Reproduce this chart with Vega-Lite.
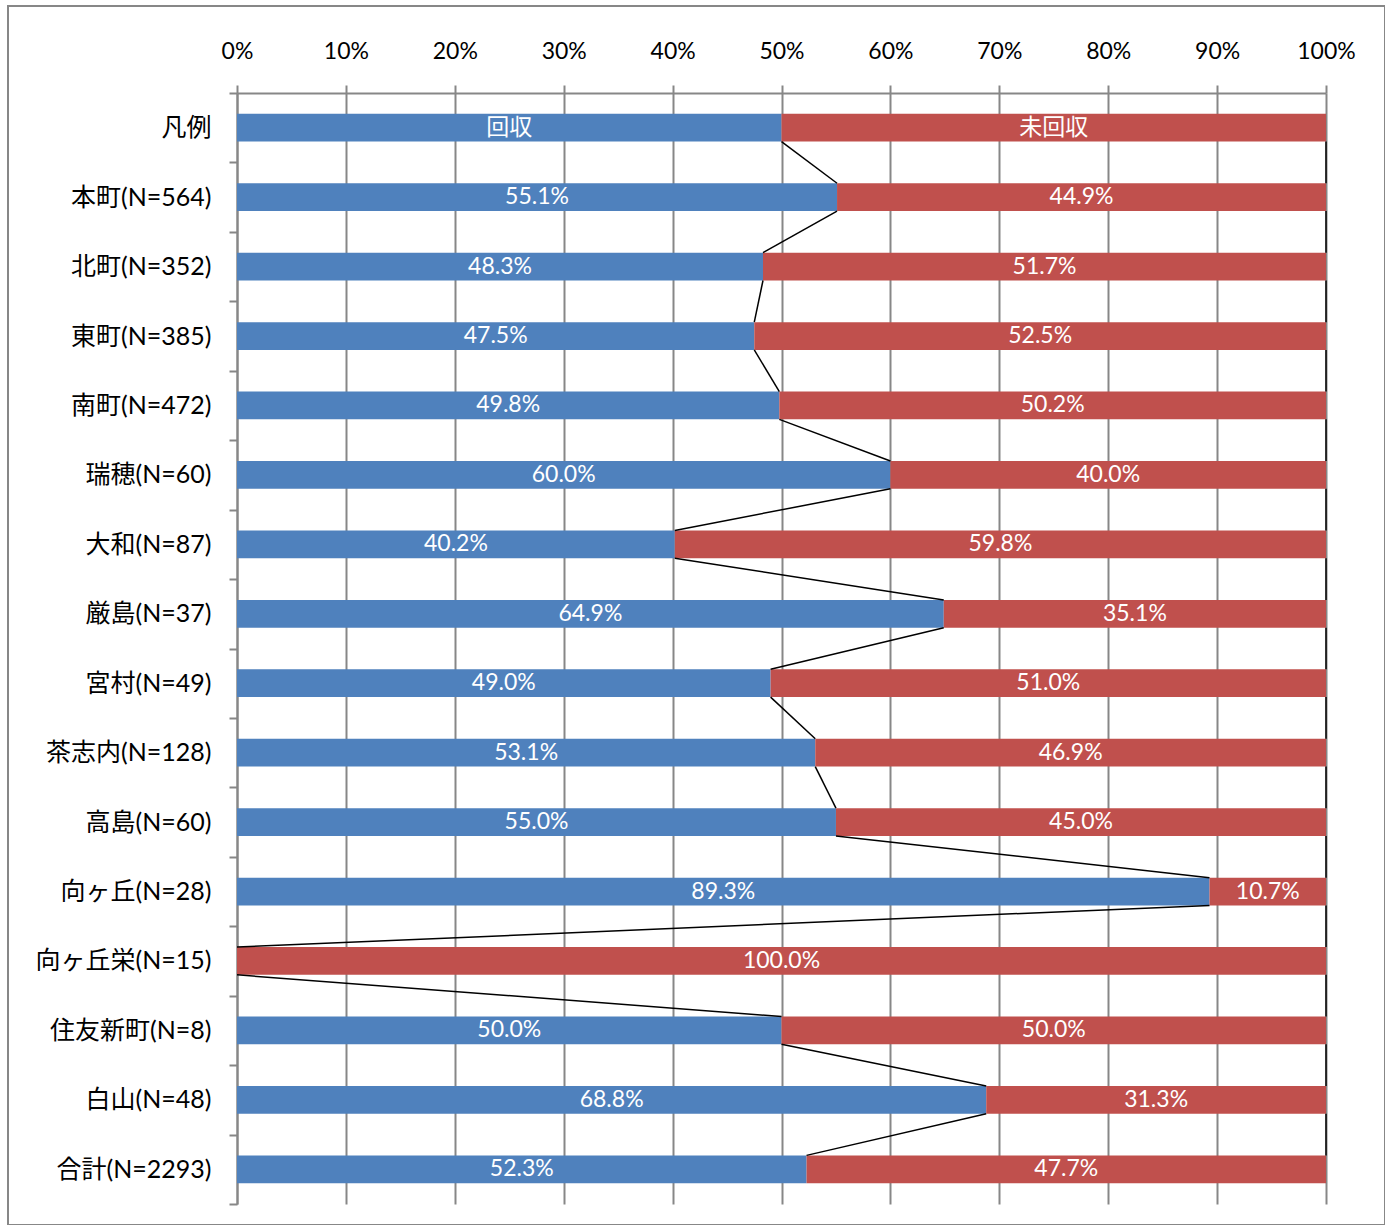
{
  "$schema": "https://vega.github.io/schema/vega-lite/v6.json",
  "width": 1377,
  "height": 1219,
  "padding": {"left": 8, "top": 6, "right": 0, "bottom": 0},
  "autosize": {"type": "none"},
  "config": {
    "view": {"stroke": "#878787", "strokeWidth": 2},
    "background": "white"
  },
  "datasets": {
    "bars": [
      {"cat": "凡例", "s": "回収", "v": 0.5, "t": "回収"},
      {"cat": "凡例", "s": "未回収", "v": 0.5, "t": "未回収"},
      {"cat": "本町(N=564)", "s": "回収", "v": 0.551, "t": "55.1%"},
      {"cat": "本町(N=564)", "s": "未回収", "v": 0.449, "t": "44.9%"},
      {"cat": "北町(N=352)", "s": "回収", "v": 0.483, "t": "48.3%"},
      {"cat": "北町(N=352)", "s": "未回収", "v": 0.517, "t": "51.7%"},
      {"cat": "東町(N=385)", "s": "回収", "v": 0.475, "t": "47.5%"},
      {"cat": "東町(N=385)", "s": "未回収", "v": 0.525, "t": "52.5%"},
      {"cat": "南町(N=472)", "s": "回収", "v": 0.498, "t": "49.8%"},
      {"cat": "南町(N=472)", "s": "未回収", "v": 0.502, "t": "50.2%"},
      {"cat": "瑞穂(N=60)", "s": "回収", "v": 0.6, "t": "60.0%"},
      {"cat": "瑞穂(N=60)", "s": "未回収", "v": 0.4, "t": "40.0%"},
      {"cat": "大和(N=87)", "s": "回収", "v": 0.402, "t": "40.2%"},
      {"cat": "大和(N=87)", "s": "未回収", "v": 0.598, "t": "59.8%"},
      {"cat": "厳島(N=37)", "s": "回収", "v": 0.649, "t": "64.9%"},
      {"cat": "厳島(N=37)", "s": "未回収", "v": 0.351, "t": "35.1%"},
      {"cat": "宮村(N=49)", "s": "回収", "v": 0.49, "t": "49.0%"},
      {"cat": "宮村(N=49)", "s": "未回収", "v": 0.51, "t": "51.0%"},
      {"cat": "茶志内(N=128)", "s": "回収", "v": 0.531, "t": "53.1%"},
      {"cat": "茶志内(N=128)", "s": "未回収", "v": 0.469, "t": "46.9%"},
      {"cat": "高島(N=60)", "s": "回収", "v": 0.55, "t": "55.0%"},
      {"cat": "高島(N=60)", "s": "未回収", "v": 0.45, "t": "45.0%"},
      {"cat": "向ヶ丘(N=28)", "s": "回収", "v": 0.893, "t": "89.3%"},
      {"cat": "向ヶ丘(N=28)", "s": "未回収", "v": 0.107, "t": "10.7%"},
      {"cat": "向ヶ丘栄(N=15)", "s": "回収", "v": 0.0, "t": ""},
      {"cat": "向ヶ丘栄(N=15)", "s": "未回収", "v": 1.0, "t": "100.0%"},
      {"cat": "住友新町(N=8)", "s": "回収", "v": 0.5, "t": "50.0%"},
      {"cat": "住友新町(N=8)", "s": "未回収", "v": 0.5, "t": "50.0%"},
      {"cat": "白山(N=48)", "s": "回収", "v": 0.688, "t": "68.8%"},
      {"cat": "白山(N=48)", "s": "未回収", "v": 0.312, "t": "31.3%"},
      {"cat": "合計(N=2293)", "s": "回収", "v": 0.523, "t": "52.3%"},
      {"cat": "合計(N=2293)", "s": "未回収", "v": 0.477, "t": "47.7%"}
    ]
  },
  "data": {"name": "bars"},
  "encoding": {
    "y": {
      "field": "cat",
      "type": "nominal",
      "sort": null,
      "scale": {"range": [87, 1198], "paddingInner": 0, "paddingOuter": 0},
      "axis": {
        "title": null,
        "orient": "left",
        "offset": -229,
        "tickBand": "extent",
        "tickSize": 8,
        "tickColor": "#878787",
        "tickWidth": 2,
        "domainColor": "#878787",
        "domainWidth": 2,
        "labelFont": "Lato, Noto Sans CJK JP",
        "labelFontSize": 25,
        "labelColor": "#000000",
        "labelPadding": 18
      }
    }
  },
  "layer": [
    {
      "mark": {"type": "bar", "height": {"band": 0.4}},
      "encoding": {
        "x": {
          "field": "v",
          "type": "quantitative",
          "stack": "zero",
          "scale": {"domain": [0, 1], "range": [229, 1318], "nice": false},
          "axis": {
            "title": null,
            "orient": "top",
            "offset": -87,
            "values": [0, 0.1, 0.2, 0.3, 0.4, 0.5, 0.6, 0.7, 0.8, 0.9, 1],
            "format": ".0%",
            "grid": true,
            "gridColor": "#878787",
            "gridWidth": 2,
            "tickSize": 8,
            "tickColor": "#878787",
            "tickWidth": 2,
            "domainColor": "#878787",
            "domainWidth": 2,
            "labelFont": "Lato",
            "labelFontSize": 23,
            "labelColor": "#000000",
            "labelPadding": 22,
            "labelFlush": false
          }
        },
        "color": {
          "field": "s",
          "type": "nominal",
          "scale": {"domain": ["回収", "未回収"], "range": ["#4F81BD", "#C0504D"]},
          "legend": null
        },
        "order": {"field": "s", "sort": "ascending"}
      }
    },
    {
      "transform": [
        {"filter": "datum.s === '回収'"},
        {"window": [
          {"op": "lead", "field": "v", "as": "nv"},
          {"op": "lead", "field": "cat", "as": "ncat"}
        ]},
        {"filter": "datum.ncat != null"}
      ],
      "mark": {"type": "rule", "color": "#000000", "strokeWidth": 1.5},
      "encoding": {
        "x": {"field": "v", "type": "quantitative"},
        "x2": {"field": "nv"},
        "y": {"field": "cat", "type": "nominal", "sort": null, "bandPosition": 0.7},
        "y2": {"field": "ncat", "bandPosition": 0.3}
      }
    },
    {
      "transform": [
        {"filter": "datum.s === '回収'"},
        {"window": [
          {"op": "lead", "field": "cat", "as": "ncat"}
        ]},
        {"filter": "datum.ncat != null"}
      ],
      "mark": {"type": "rule", "color": "#000000", "strokeWidth": 1.5},
      "encoding": {
        "x": {"datum": 1, "type": "quantitative"},
        "y": {"field": "cat", "type": "nominal", "sort": null, "bandPosition": 0.7},
        "y2": {"field": "ncat", "bandPosition": 0.3}
      }
    },
    {
      "mark": {
        "type": "text",
        "color": "#FFFFFF",
        "font": "Lato, Noto Sans CJK JP",
        "fontSize": 23,
        "baseline": "middle",
        "align": "center"
      },
      "encoding": {
        "x": {"field": "v", "type": "quantitative", "stack": "zero", "bandPosition": 0.5},
        "detail": {"field": "s"},
        "order": {"field": "s", "sort": "ascending"},
        "text": {"field": "t"}
      }
    }
  ]
}
